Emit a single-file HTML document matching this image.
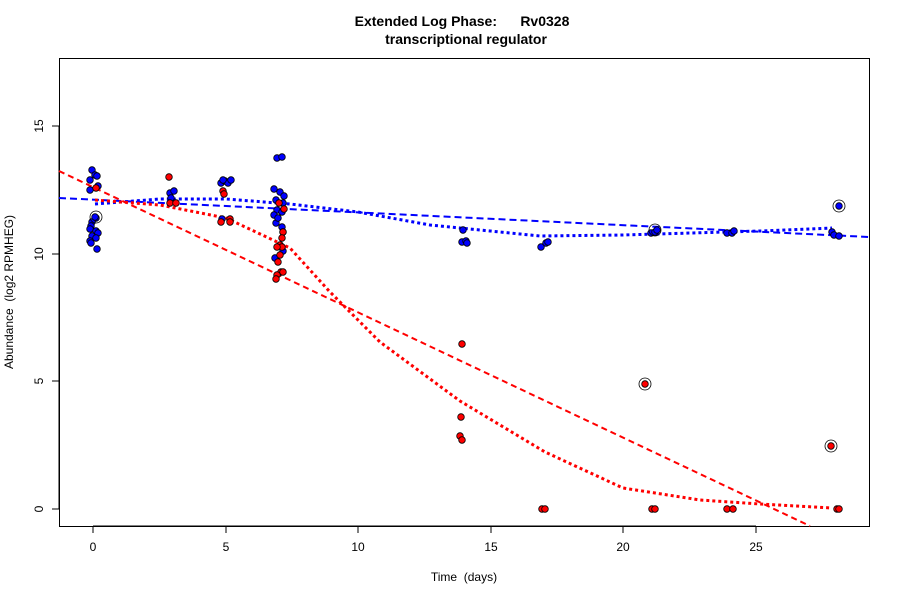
<!DOCTYPE html><html><head><style>body{margin:0;background:#fff}svg{display:block}text{font-family:"Liberation Sans",sans-serif}</style></head><body>
<svg width="900" height="600" viewBox="0 0 900 600">
<text x="462" y="26" font-size="14" font-weight="bold" text-anchor="middle">Extended Log Phase:&#160;&#160;&#160;&#160;&#160;&#160;Rv0328</text>
<text x="466" y="44" font-size="14" font-weight="bold" text-anchor="middle">transcriptional regulator</text>
<rect x="59.5" y="58.5" width="810" height="468" fill="none" stroke="#000"/>
<g stroke="#000"><line x1="93" y1="526" x2="756" y2="526"/>
<line x1="93" y1="526" x2="93" y2="533"/><line x1="226" y1="526" x2="226" y2="533"/><line x1="358" y1="526" x2="358" y2="533"/><line x1="491" y1="526" x2="491" y2="533"/><line x1="623" y1="526" x2="623" y2="533"/><line x1="756" y1="526" x2="756" y2="533"/>
<line x1="59" y1="509" x2="59" y2="126"/>
<line x1="52" y1="509" x2="59" y2="509"/><line x1="52" y1="381" x2="59" y2="381"/><line x1="52" y1="254" x2="59" y2="254"/><line x1="52" y1="126" x2="59" y2="126"/></g>
<g font-size="12" text-anchor="middle"><text x="93" y="551">0</text><text x="226" y="551">5</text><text x="358" y="551">10</text><text x="491" y="551">15</text><text x="623" y="551">20</text><text x="756" y="551">25</text>
<text transform="translate(43,509) rotate(-90)">0</text><text transform="translate(43,381) rotate(-90)">5</text><text transform="translate(43,254) rotate(-90)">10</text><text transform="translate(43,126) rotate(-90)">15</text>
<text x="464" y="581">Time&#160;&#160;(days)</text>
<text transform="translate(13,292) rotate(-90)">Abundance&#160;&#160;(log2 RPMHEG)</text></g>
<g fill="none" stroke-width="2">
<polyline stroke="#f00" stroke-dasharray="6,4" points="59,171 810,526"/>
<polyline stroke="#00f" stroke-dasharray="7,4" points="59,198 869,237"/>
<polyline stroke="#00f" stroke-width="3" stroke-dasharray="3,3" points="95,204 160,199 226,199 290,204 358,212 430,225 540,236 623,235 760,231 832,228"/>
<polyline stroke="#f00" stroke-width="3" stroke-dasharray="3,3" points="95,200 160,205 226,218 290,248 330,292 380,342 460,401 545,452 623,488 700,500 760,504 832,508"/>
</g>
<g stroke="#000" stroke-width="0.8">
<g fill="#00f">
<circle cx="92" cy="170" r="3.3"/><circle cx="95" cy="175" r="3.3"/><circle cx="90" cy="180" r="3.3"/><circle cx="98" cy="186" r="3.3"/><circle cx="90" cy="190" r="3.3"/><circle cx="97" cy="176" r="3.3"/>
<circle cx="96" cy="218" r="3.3"/><circle cx="92" cy="222" r="3.3"/><circle cx="91" cy="226" r="3.3"/><circle cx="90" cy="229" r="3.3"/><circle cx="96" cy="231" r="3.3"/><circle cx="98" cy="233" r="3.3"/><circle cx="92" cy="236" r="3.3"/><circle cx="96" cy="238" r="3.3"/><circle cx="90" cy="241" r="3.3"/><circle cx="91" cy="243" r="3.3"/><circle cx="97" cy="249" r="3.3"/><circle cx="95" cy="217" r="3.3"/>
<circle cx="170" cy="193" r="3.3"/><circle cx="174" cy="191" r="3.3"/><circle cx="171" cy="198" r="3.3"/>
<circle cx="221" cy="183" r="3.3"/><circle cx="225" cy="181" r="3.3"/><circle cx="228" cy="183" r="3.3"/><circle cx="231" cy="180" r="3.3"/><circle cx="223" cy="180" r="3.3"/><circle cx="222" cy="219" r="3.3"/><circle cx="230" cy="221" r="3.3"/>
<circle cx="277" cy="158" r="3.3"/><circle cx="282" cy="157" r="3.3"/>
<circle cx="274" cy="189" r="3.3"/><circle cx="280" cy="192" r="3.3"/><circle cx="284" cy="196" r="3.3"/><circle cx="276" cy="200" r="3.3"/><circle cx="283" cy="203" r="3.3"/><circle cx="277" cy="210" r="3.3"/><circle cx="274" cy="215" r="3.3"/><circle cx="282" cy="212" r="3.3"/><circle cx="276" cy="223" r="3.3"/><circle cx="282" cy="227" r="3.3"/><circle cx="283" cy="232" r="3.3"/><circle cx="278" cy="218" r="3.3"/><circle cx="283" cy="251" r="3.3"/><circle cx="275" cy="258" r="3.3"/>
<circle cx="463" cy="230" r="3.3"/><circle cx="462" cy="242" r="3.3"/><circle cx="466" cy="241" r="3.3"/><circle cx="467" cy="243" r="3.3"/>
<circle cx="541" cy="247" r="3.3"/><circle cx="546" cy="243" r="3.3"/><circle cx="548" cy="242" r="3.3"/>
<circle cx="651" cy="233" r="3.3"/><circle cx="655" cy="232" r="3.3"/><circle cx="657" cy="230" r="3.3"/>
<circle cx="727" cy="233" r="3.3"/><circle cx="732" cy="233" r="3.3"/><circle cx="734" cy="231" r="3.3"/>
<circle cx="832" cy="232" r="3.3"/><circle cx="834" cy="235" r="3.3"/><circle cx="839" cy="236" r="3.3"/><circle cx="839" cy="206" r="3.3"/>
</g>
<g fill="#f00">
<circle cx="96" cy="188" r="3.3"/>
<circle cx="169" cy="177" r="3.3"/><circle cx="170" cy="203" r="3.3"/><circle cx="176" cy="203" r="3.3"/>
<circle cx="223" cy="191" r="3.3"/><circle cx="224" cy="194" r="3.3"/><circle cx="221" cy="222" r="3.3"/><circle cx="230" cy="219" r="3.3"/><circle cx="230" cy="222" r="3.3"/>
<circle cx="279" cy="203" r="3.3"/><circle cx="284" cy="209" r="3.3"/><circle cx="283" cy="232" r="3.3"/><circle cx="282" cy="238" r="3.3"/><circle cx="280" cy="245" r="3.3"/><circle cx="282" cy="247" r="3.3"/><circle cx="277" cy="247" r="3.3"/><circle cx="280" cy="255" r="3.3"/><circle cx="278" cy="262" r="3.3"/><circle cx="281" cy="272" r="3.3"/><circle cx="277" cy="275" r="3.3"/><circle cx="276" cy="279" r="3.3"/><circle cx="283" cy="272" r="3.3"/>
<circle cx="462" cy="344" r="3.3"/><circle cx="461" cy="417" r="3.3"/><circle cx="460" cy="436" r="3.3"/><circle cx="462" cy="440" r="3.3"/>
<circle cx="542" cy="509" r="3.3"/><circle cx="545" cy="509" r="3.3"/><circle cx="652" cy="509" r="3.3"/><circle cx="655" cy="509" r="3.3"/><circle cx="727" cy="509" r="3.3"/><circle cx="733" cy="509" r="3.3"/><circle cx="837" cy="509" r="3.3"/><circle cx="839" cy="509" r="3.3"/>
<circle cx="645" cy="384" r="3.3"/><circle cx="831" cy="446" r="3.3"/>
</g>
</g>
<g fill="none" stroke="#000" stroke-width="0.8">
<circle cx="96" cy="217" r="6"/><circle cx="645" cy="384" r="6"/><circle cx="831" cy="446" r="6"/><circle cx="839" cy="206" r="6"/><circle cx="655" cy="230" r="6"/>
</g>
</svg></body></html>
